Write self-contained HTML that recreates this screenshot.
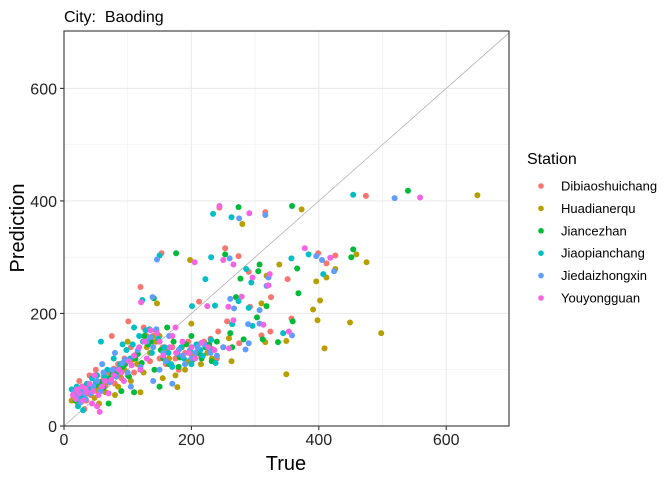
<!DOCTYPE html>
<html><head><meta charset="utf-8"><style>
body{margin:0;background:#fff;}
svg{display:block;font-family:"Liberation Sans",Arial,sans-serif;}
</style></head><body>
<svg id="chart" width="672" height="480">
<rect width="672" height="480" fill="#fff"></rect>
<g id="grid"></g>
<line id="diag" stroke="#b3b3b3" stroke-width="0.8"></line>
<g id="points"></g>
<rect x="64" y="31" width="445" height="395" fill="none" stroke="#333" stroke-width="1.1"></rect>
<g id="axes"></g>
<text x="64" y="22" font-size="16" fill="#000" style="white-space:pre">City:  Baoding</text>
<text x="286" y="470" font-size="20" text-anchor="middle" fill="#000">True</text>
<text transform="translate(24,228) rotate(-90)" font-size="20" text-anchor="middle" fill="#000">Prediction</text>
<g id="legend"></g>
</svg>
<script>
const xTicks=[0,200,400,600];
const yTicks=[0,200,400,600];
const minorTicks=[100,300,500];
const stations=["Dibiaoshuichang","Huadianerqu","Jiancezhan","Jiaopianchang","Jiedaizhongxin","Youyongguan"];
const colors=["#F8766D","#B79F00","#00BA38","#00BFC4","#619CFF","#F564E3"];
const dib=[[20,55],[28,60],[35,45],[45,70],[55,65],[60,80],[70,95],[80,75],[85,110],[95,120],[100,90],[105,140],[115,130],[120,100],[130,160],[140,150],[150,120],[160,110],[170,140],[180,100],[190,130],[200,140],[210,135],[220,150],[232,137],[240,120],[24,80],[40,90],[32,30],[50,100],[75,160],[101,186],[125,175],[145,170],[200,128],
[18,62],[30,70],[42,55],[65,72],[90,85],[110,95],[135,115],[155,140],[175,120],[195,150],[215,125],[230,155],[62,88],[78,102],
[474,409],[244,388],[316,380],[153,307],[253,316],[274,302],[290,274],[120,247],[212,221],[292,212],[325,229],[351,261],[399,307],[412,289],[426,303],[357,191],[324,168],[310,161],[256,186],[242,168],[275,147]];
const hua=[[15,50],[22,40],[30,55],[40,65],[48,50],[58,75],[65,60],[75,90],[85,70],[95,100],[105,80],[115,110],[125,95],[135,130],[145,150],[155,85],[165,120],[175,90],[185,140],[195,115],[205,125],[215,110],[225,130],[232,120],[140,160],[100,150],[55,40],[178,69],[120,60],[190,100],
[12,45],[26,48],[36,58],[52,62],[68,78],[88,92],[108,118],[130,140],[160,135],[210,145],[225,140],[80,55],[150,160],
[649,410],[280,359],[373,385],[198,295],[318,267],[146,218],[310,218],[338,287],[459,305],[475,291],[426,279],[412,264],[396,257],[402,223],[391,207],[398,188],[449,184],[498,165],[409,138],[349,92],[349,151],[316,149],[259,156],[263,115],[250,140],[200,182]];
const jia=[[18,45],[26,58],[38,62],[50,72],[62,68],[72,85],[82,95],[92,105],[102,88],[112,120],[122,112],[132,145],[142,100],[152,135],[162,175],[172,150],[182,122],[192,145],[202,118],[212,130],[222,140],[232,115],[240,150],[110,60],[90,62],[150,70],[126,160],[70,40],[180,105],[200,160],
[22,52],[44,66],[56,78],[76,92],[96,110],[116,128],[136,150],[156,120],[196,130],[216,120],[228,145],[165,110],
[540,418],[274,389],[358,391],[176,307],[253,305],[307,287],[305,275],[277,262],[141,227],[270,229],[318,213],[366,280],[454,314],[451,300],[368,236],[359,186],[336,149],[312,154],[303,193],[261,165],[282,154],[264,140]];
const jao=[[12,65],[20,70],[28,52],[36,75],[44,85],[52,90],[60,70],[68,100],[78,120],[88,110],[98,135],[108,145],[118,160],[128,170],[138,130],[148,155],[158,140],[168,110],[178,128],[188,120],[198,135],[208,145],[218,125],[228,138],[238,112],[22,35],[30,28],[58,150],[92,145],[110,175],[170,105],[200,110],
[16,58],[26,62],[40,68],[50,78],[64,88],[84,100],[104,120],[124,150],[144,170],[164,130],[184,140],[214,135],[134,172],
[454,411],[234,377],[263,371],[150,303],[231,300],[286,279],[294,255],[222,261],[123,224],[201,213],[237,214],[274,222],[290,210],[357,298],[384,305],[407,270],[344,165],[296,178],[264,181],[231,153]];
const jie=[[16,60],[24,65],[34,48],[42,58],[52,80],[62,95],[72,78],[82,88],[92,112],[100,95],[110,125],[120,105],[130,150],[140,140],[150,100],[160,115],[170,75],[180,135],[190,110],[200,120],[210,140],[220,145],[230,130],[240,125],[26,42],[60,110],[80,130],[140,80],[105,70],[250,140],[165,160],
[20,50],[32,58],[46,70],[58,62],[76,100],[96,118],[116,135],[136,158],[156,130],[186,125],[206,130],[145,172],
[519,405],[275,369],[316,375],[146,296],[260,298],[321,264],[139,229],[261,226],[267,209],[307,206],[318,249],[396,302],[405,295],[424,275],[358,161],[307,182],[289,181],[290,147],[285,136]];
const you=[[14,55],[20,65],[28,70],[36,60],[44,40],[52,35],[56,25],[64,80],[70,58],[78,90],[86,100],[94,80],[102,115],[110,125],[118,140],[126,150],[136,170],[146,165],[156,125],[166,140],[176,130],[186,150],[196,130],[206,120],[216,148],[226,140],[236,135],[30,45],[40,75],[48,90],[120,100],[175,175],
[18,48],[24,58],[34,66],[46,62],[60,70],[74,82],[90,95],[106,108],[130,120],[150,150],[170,160],[200,140],[54,55],
[559,406],[244,391],[291,378],[205,291],[250,295],[266,287],[323,270],[296,264],[321,250],[121,220],[225,213],[279,230],[258,212],[378,316],[418,299],[353,168],[313,180],[266,188],[259,138]];
const series=[dib,hua,jia,jao,jie,you];
const NS="http://www.w3.org/2000/svg";
const L=64,R=509,T=31,B=426,XMAX=698.6,YMAX=702;
function sx(v){return L+v/XMAX*(R-L);}
function sy(v){return B-v/YMAX*(B-T);}
function mk(tag,attrs,parent){const e=document.createElementNS(NS,tag);for(const k in attrs)e.setAttribute(k,attrs[k]);parent.appendChild(e);return e;}
const grid=document.getElementById('grid');
mk('rect',{x:L,y:T,width:R-L,height:B-T,fill:'#fff'},grid);
minorTicks.forEach(v=>{
 let a=mk('line',{x1:sx(v),x2:sx(v),y1:T,y2:B,stroke:'#f0f0f0','stroke-width':0.6},grid);
 
 
 let b=mk('line',{x1:L,x2:R,y1:sy(v),y2:sy(v),stroke:'#f0f0f0','stroke-width':0.6},grid);
 
 
});
xTicks.forEach(v=>{
 let a=mk('line',{x1:sx(v),x2:sx(v),y1:T,y2:B,stroke:'#ebebeb','stroke-width':1.1},grid);
 
 
});
yTicks.forEach(v=>{
 let b=mk('line',{x1:L,x2:R,y1:sy(v),y2:sy(v),stroke:'#ebebeb','stroke-width':1.1},grid);
 
 
});
const d=document.getElementById('diag');
const dm=Math.min(XMAX,YMAX);
d.setAttribute('x1',sx(0));d.setAttribute('y1',sy(0));d.setAttribute('x2',sx(dm));d.setAttribute('y2',sy(dm));
const pts=document.getElementById('points');
series.forEach((s,i)=>{s.forEach(p=>{
 const c=mk('circle',{cx:sx(p[0]),cy:sy(p[1]),r:3,fill:colors[i]},pts);
 
 
});});
const axes=document.getElementById('axes');
xTicks.forEach(v=>{
 mk('line',{x1:sx(v),x2:sx(v),y1:B,y2:B+4,stroke:'#333','stroke-width':1.1},axes);
 const t=mk('text',{x:sx(v),y:B+19,'font-size':16,'text-anchor':'middle',fill:'#222'},axes);
 t.textContent=v;
 
 
});
yTicks.forEach(v=>{
 mk('line',{x1:L-4,x2:L,y1:sy(v),y2:sy(v),stroke:'#333','stroke-width':1.1},axes);
 const t=mk('text',{x:L-7,y:sy(v)+6,'font-size':16,'text-anchor':'end',fill:'#222'},axes);
 t.textContent=v;
 
 
});
const lg=document.getElementById('legend');
const lt=mk('text',{x:527,y:164,'font-size':16,fill:'#000'},lg);
lt.textContent='Station';


stations.forEach((s,i)=>{
 const y=186+i*22.4;
 const g=mk('g',{},lg);
 
 
 mk('circle',{cx:541,cy:y,r:2.8,fill:colors[i]},g);
 const t=mk('text',{x:561,y:y+4.5,'font-size':13,fill:'#000'},g);
 t.textContent=s;
});
</script>
</body></html>
